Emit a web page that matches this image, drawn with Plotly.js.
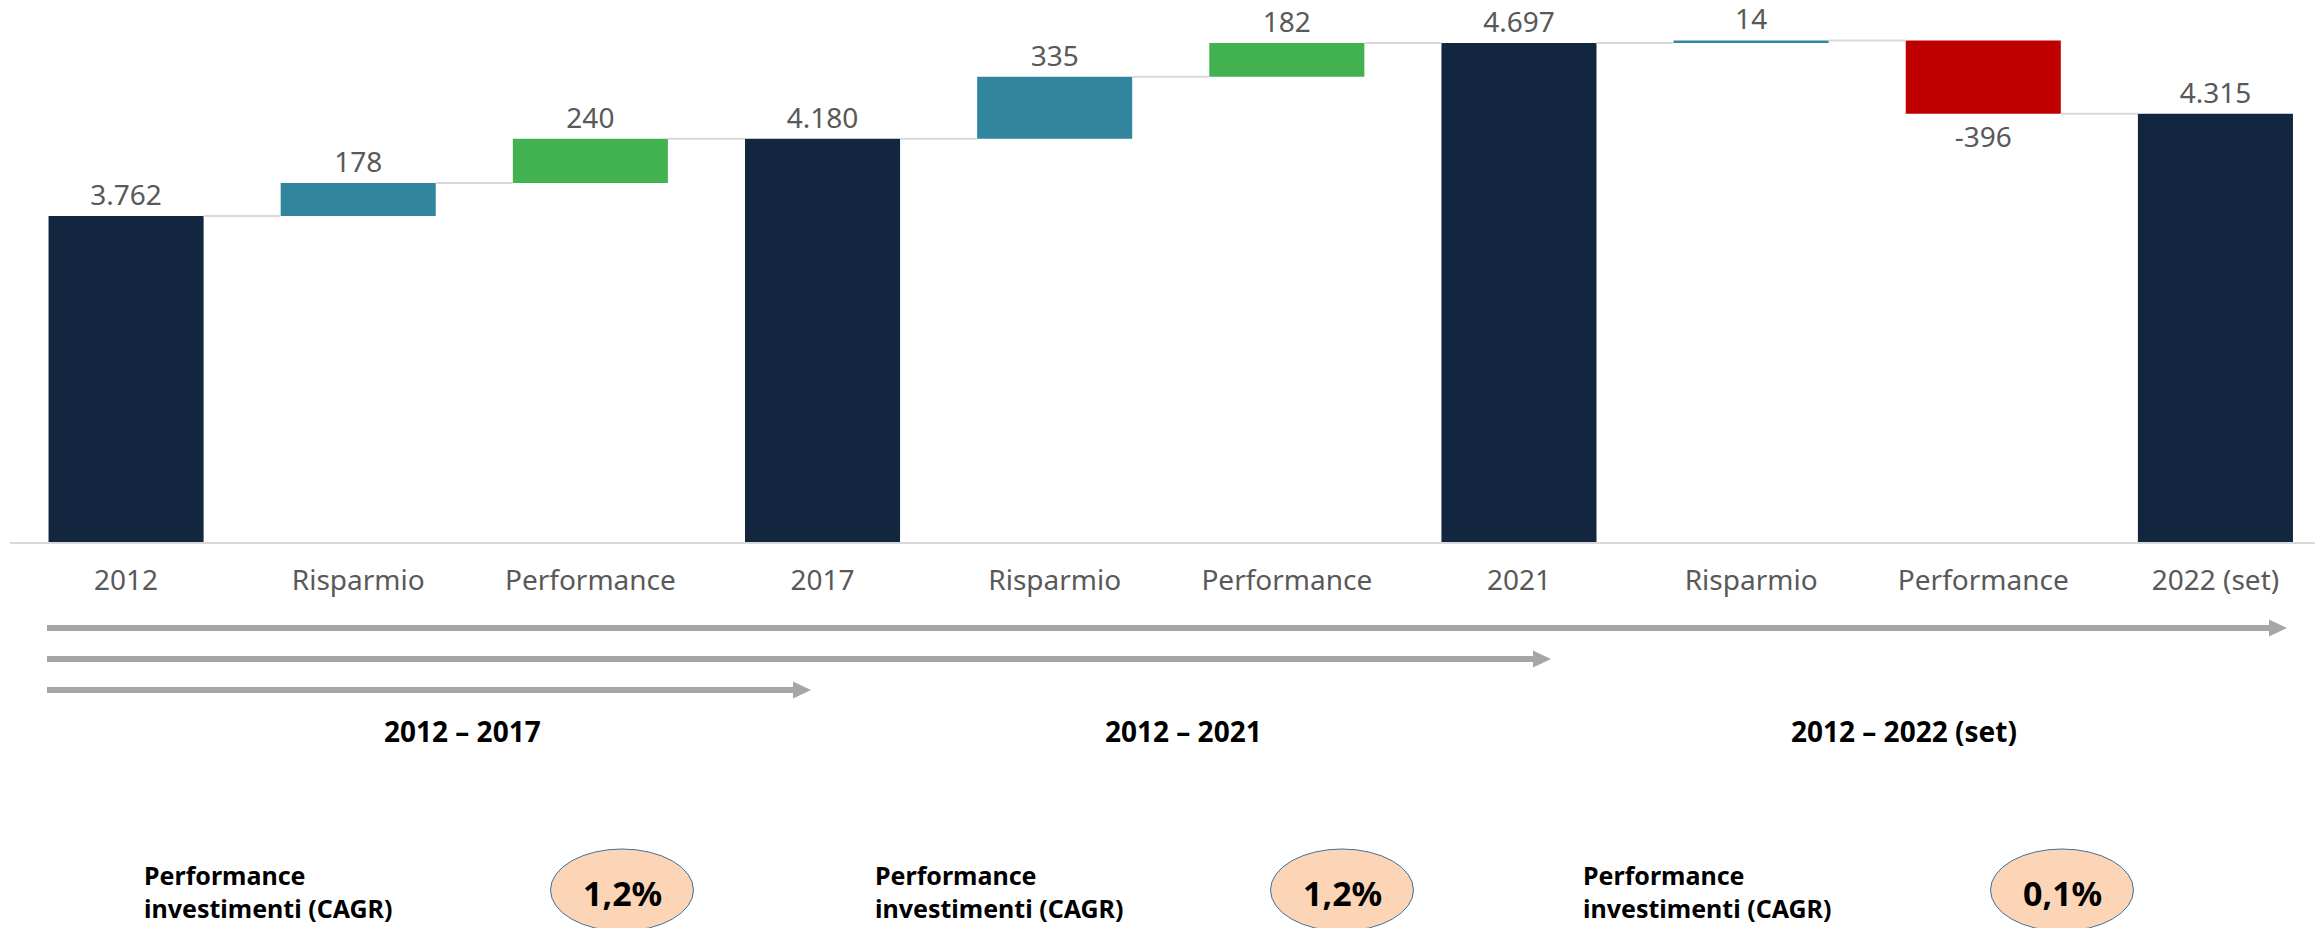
<!DOCTYPE html>
<html>
<head>
<meta charset="utf-8">
<script src="https://cdn.plot.ly/plotly-3.0.1.min.js"></script>
<style>
  html, body { margin: 0; padding: 0; background: #ffffff; }
  #chart { width: 2315px; height: 928px; }
</style>
</head>
<body>
<div id="chart"></div>
<script>
// ---------------- DATA ----------------
const categories = ['2012', 'Risparmio', 'Performance', '2017', 'Risparmio', 'Performance', '2021', 'Risparmio', 'Performance', '2022 (set)'];
const values     = [3762, 178, 240, 4180, 335, 182, 4697, 14, -396, 4315];
const measures   = ['total', 'relative', 'relative', 'total', 'relative', 'relative', 'total', 'relative', 'relative', 'total'];

const periodLabels = ['2012 – 2017', '2012 – 2021', '2012 – 2022 (set)'];
const cagrLabel    = 'Performance<br>investimenti (CAGR)';
const cagrValues   = ['1,2%', '1,2%', '0,1%'];

// ---------------- STYLE / LAYOUT ----------------
const FIG_W = 2315, FIG_H = 928;
const ML = 10, MT = 0, MB = 386, MR = 0;
const PW = FIG_W - ML - MR, PH = FIG_H - MT - MB;
const Y_MIN = 2000, PX_PER_UNIT = 0.185;
const Y_MAX = Y_MIN + PH / PX_PER_UNIT;
const BAR_W = 0.668;

const NAVY = '#12263F', TEAL = '#31859C', GREEN = '#41B24F', RED = '#C00000';
const GRAYLINE = '#D9D9D9', ARROW = '#A6A6A6', TXT = '#595959';
const FONT = 'Noto Sans, Open Sans, DejaVu Sans, sans-serif';

function fmt(v) {
  const s = Math.abs(v).toString().replace(/\B(?=(\d{3})+(?!\d))/g, '.');
  return (v < 0 ? '-' : '') + s;
}

// build waterfall geometry from the data
const xs = [], bases = [], ys = [], colors = [], texts = [], levels = [];
let cum = 0;
values.forEach((v, i) => {
  xs.push(i);
  if (measures[i] === 'total') {
    bases.push(0); ys.push(v); cum = v;
    colors.push(NAVY);
  } else {
    bases.push(cum); ys.push(v); cum += v;
    if (categories[i] === 'Risparmio') colors.push(TEAL);
    else colors.push(v >= 0 ? GREEN : RED);
  }
  levels.push(cum);
  texts.push(fmt(v));
});

// connectors between consecutive bars
const cx = [], cy = [];
for (let i = 0; i < values.length - 1; i++) {
  cx.push(i + BAR_W / 2, i + 1 - BAR_W / 2, null);
  cy.push(levels[i], levels[i], null);
}

const barTrace = {
  type: 'bar',
  x: xs, y: ys, base: bases,
  width: BAR_W,
  marker: { color: colors, line: { width: 0 } },
  text: texts,
  textposition: 'outside',
  textfont: { family: FONT, size: 28, color: TXT },
  constraintext: 'none',
  cliponaxis: false,
  hoverinfo: 'skip',
  showlegend: false
};

const connTrace = {
  type: 'scatter', mode: 'lines',
  x: cx, y: cy,
  line: { color: GRAYLINE, width: 2 },
  hoverinfo: 'skip', showlegend: false
};

// pixel -> paper helpers (layout positions only)
const X = px => (px - ML) / PW;
const Y = py => 1 - (py - MT) / PH;

function arrowPath(x0, x1, yc) {
  const t = 3, hh = 8.5, hl = 18, xh = x1 - hl;
  return `M ${X(x0)},${Y(yc - t)} L ${X(xh)},${Y(yc - t)} L ${X(xh)},${Y(yc - hh)} L ${X(x1)},${Y(yc)} ` +
         `L ${X(xh)},${Y(yc + hh)} L ${X(xh)},${Y(yc + t)} L ${X(x0)},${Y(yc + t)} Z`;
}

const arrowDefs = [
  { x0: 47, x1: 2287, y: 628 },
  { x0: 47, x1: 1551, y: 659 },
  { x0: 47, x1: 811,  y: 690 }
];
const periodX = [462, 1183, 1904];
const labelX = [142, 873, 1581];
const circleX = [622, 1342, 2062];

const shapes = [];
arrowDefs.forEach(a => shapes.push({
  type: 'path', xref: 'paper', yref: 'paper',
  path: arrowPath(a.x0, a.x1, a.y),
  fillcolor: ARROW, line: { width: 0 }
}));
circleX.forEach(c => shapes.push({
  type: 'circle', xref: 'paper', yref: 'paper',
  x0: X(c - 71.5), x1: X(c + 71.5), y0: Y(931), y1: Y(849),
  fillcolor: '#FBD5B5', line: { color: '#41719C', width: 1 }
}));

const annotations = [];
periodLabels.forEach((p, i) => annotations.push({
  xref: 'paper', yref: 'paper', x: X(periodX[i]), y: Y(731),
  xanchor: 'center', yanchor: 'middle', showarrow: false,
  text: '<b>' + p + '</b>',
  font: { family: FONT, size: 28, color: '#000000' }
}));
labelX.forEach((lx, i) => annotations.push({
  xref: 'paper', yref: 'paper', x: X(lx), y: Y(891.5),
  xanchor: 'left', yanchor: 'middle', align: 'left', showarrow: false,
  text: '<b>' + cagrLabel + '</b>',
  font: { family: FONT, size: 25, color: '#000000' }
}));
cagrValues.forEach((c, i) => annotations.push({
  xref: 'paper', yref: 'paper', x: X(circleX[i]), y: Y(893),
  xanchor: 'center', yanchor: 'middle', showarrow: false,
  text: '<b>' + c + '</b>',
  font: { family: FONT, size: 34, color: '#000000' }
}));

const layout = {
  width: FIG_W, height: FIG_H,
  margin: { l: ML, r: MR, t: MT, b: MB, pad: 0 },
  paper_bgcolor: '#ffffff', plot_bgcolor: '#ffffff',
  showlegend: false,
  hovermode: false,
  barmode: 'overlay',
  xaxis: {
    range: [-0.5, -0.5 + PW / 232.15],
    tickmode: 'array', tickvals: xs, ticktext: categories,
    tickfont: { family: FONT, size: 28, color: TXT },
    ticklabelstandoff: 12,
    showgrid: false, zeroline: false,
    showline: true, linecolor: GRAYLINE, linewidth: 2,
    ticks: '', fixedrange: true
  },
  yaxis: {
    range: [Y_MIN, Y_MAX],
    visible: false, showgrid: false, zeroline: false, fixedrange: true
  },
  shapes: shapes,
  annotations: annotations
};

Plotly.newPlot('chart', [barTrace, connTrace], layout, { displayModeBar: false, staticPlot: true });
</script>
</body>
</html>
